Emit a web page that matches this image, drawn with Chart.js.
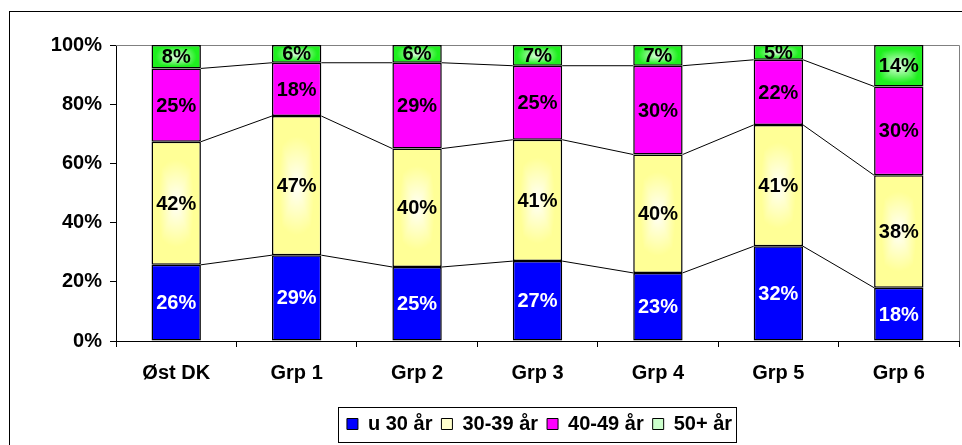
<!DOCTYPE html>
<html>
<head>
<meta charset="utf-8">
<script src="https://cdn.jsdelivr.net/npm/chart.js@4.4.1/dist/chart.umd.min.js"></script>
<style>
  html, body { margin: 0; padding: 0; background: #fff; }
</style>
</head>
<body>
<canvas id="myChart" width="962" height="445"></canvas>
<script>
var categories = ['Øst DK', 'Grp 1', 'Grp 2', 'Grp 3', 'Grp 4', 'Grp 5', 'Grp 6'];
var under30 = [26, 29, 25, 27, 23, 32, 18];
var age30to39 = [42, 47, 40, 41, 40, 41, 38];
var age40to49 = [25, 18, 29, 25, 30, 22, 30];
var over50 = [8, 6, 6, 7, 7, 5, 14];
var seriesNames = ['u 30 år', '30-39 år', '40-49 år', '50+ år'];
var yTicks = [0, 20, 40, 60, 80, 100];

var series = [under30, age30to39, age40to49, over50];
var FONT = '"Liberation Sans", Arial, sans-serif';
var FONT_SIZE = 20;
var BAR_FRACTION = 0.41;

// rows don't always add to 100 (Øst DK = 101), so stack shares
var totals = categories.map(function (c, i) {
    return series.reduce(function (s, arr) { return s + arr[i]; }, 0);
});
function share(arr) {
    return arr.map(function (v, i) { return v / totals[i] * 100; });
}

// "from center" fill like the old Excel gradients
function makeTile(center, edge, gain) {
    var n = 64;
    var c = document.createElement('canvas');
    c.width = n; c.height = n;
    var g = c.getContext('2d');
    var img = g.createImageData(n, n);
    for (var y = 0; y < n; y++) {
        for (var x = 0; x < n; x++) {
            var dx = (x + 0.5) / n * 2 - 1, dy = (y + 0.5) / n * 2 - 1;
            var t = 0.5 * Math.max(Math.abs(dx), Math.abs(dy)) + 0.5 * Math.min(1, Math.sqrt(dx * dx + dy * dy));
            t = Math.min(1, t * gain);
            var k = (y * n + x) * 4;
            for (var j = 0; j < 3; j++) img.data[k + j] = center[j] + (edge[j] - center[j]) * t;
            img.data[k + 3] = 255;
        }
    }
    g.putImageData(img, 0, 0);
    return c;
}

var yellowTile = makeTile([255, 255, 250], [255, 255, 150], 1.4);
var greenTile = makeTile([230, 255, 230], [30, 240, 30], 1.2);

function gradientFill(tile, solid) {
    return function (ctx) {
        var chart = ctx.chart, xs = chart.scales.x, ys = chart.scales.y;
        if (ctx.type !== 'data' || !xs || !ys) return solid;
        var i = ctx.dataIndex, d = ctx.datasetIndex;
        var base = 0;
        for (var k = 0; k < d; k++) base += chart.data.datasets[k].data[i];
        var top = ys.getPixelForValue(base + chart.data.datasets[d].data[i]);
        var bottom = ys.getPixelForValue(base);
        var w = xs.width / categories.length * BAR_FRACTION;
        var left = xs.getPixelForValue(i) - w / 2;
        var p = chart.ctx.createPattern(tile, 'repeat');
        p.setTransform(new DOMMatrix([w / 64, 0, 0, (bottom - top) / 64, left, top]));
        return p;
    };
}

var legendColors = ['#0000ff', '#ffffcc', '#ff00ff', '#ccffcc'];

var frame = {
    id: 'frame',
    beforeDraw: function (chart) {
        var c = chart.ctx;
        c.save();
        c.fillStyle = '#fff';
        c.fillRect(0, 0, chart.width, chart.height);
        c.strokeStyle = '#000';
        c.lineWidth = 1;
        c.strokeRect(9.5, 11.5, 1000, 1000);
        c.restore();
    },
    beforeDatasetsDraw: function (chart) {
        var a = chart.chartArea, c = chart.ctx;
        c.save();
        c.strokeStyle = '#808080';
        c.lineWidth = 1;
        c.beginPath();
        c.moveTo(a.left, Math.round(a.top) + 0.5);
        c.lineTo(Math.round(a.right) + 0.5, Math.round(a.top) + 0.5);
        c.lineTo(Math.round(a.right) + 0.5, a.bottom);
        c.stroke();
        c.restore();
    },
    afterLayout: function (chart) {
        var lg = chart.legend;
        var w = lg.right - lg.left, h = lg.bottom - lg.top;
        lg.left = 539.5 - w / 2; lg.right = 539.5 + w / 2;
        lg.top = 405; lg.bottom = 405 + h;
    },
    afterDraw: function (chart) {
        var lg = chart.legend, c = chart.ctx;
        var pad = lg.options.labels.padding;
        var cw = lg.lineWidths[0] - pad;
        var x0 = (lg.left + pad + lg.right - lg.lineWidths[0]) / 2;
        c.save();
        c.strokeStyle = '#000';
        c.lineWidth = 1;
        c.strokeRect(Math.round(x0 - 9) + 0.5, 407.5, Math.round(cw + 13), 35);
        c.restore();
    }
};

// thin lines joining the segment tops of neighbouring bars, plus the % labels
var seriesLines = {
    id: 'seriesLines',
    afterDatasetsDraw: function (chart) {
        var c = chart.ctx;
        c.save();
        c.strokeStyle = '#000';
        c.lineWidth = 1;
        c.beginPath();
        for (var d = 0; d < series.length - 1; d++) {
            var bars = chart.getDatasetMeta(d).data;
            for (var i = 0; i < bars.length - 1; i++) {
                var a = bars[i], b = bars[i + 1];
                c.moveTo(a.x + a.width / 2, a.y);
                c.lineTo(b.x - b.width / 2, b.y);
            }
        }
        c.stroke();

        c.font = 'bold ' + FONT_SIZE + 'px ' + FONT;
        c.textAlign = 'center';
        c.textBaseline = 'middle';
        chart.data.datasets.forEach(function (ds, d) {
            chart.getDatasetMeta(d).data.forEach(function (bar, i) {
                c.fillStyle = d === 0 ? '#fff' : '#000';
                c.fillText(series[d][i] + '%', bar.x, (bar.y + bar.base) / 2 + 1);
            });
        });
        c.restore();
    }
};

var ctx = document.getElementById('myChart').getContext('2d');
var chart = new Chart(ctx, {
    type: 'bar',
    data: {
        labels: categories,
        datasets: [{
            label: seriesNames[0],
            data: share(under30),
            backgroundColor: '#0000ff'
        }, {
            label: seriesNames[1],
            data: share(age30to39),
            backgroundColor: gradientFill(yellowTile, '#ffffcc')
        }, {
            label: seriesNames[2],
            data: share(age40to49),
            backgroundColor: '#ff00ff'
        }, {
            label: seriesNames[3],
            data: share(over50),
            backgroundColor: gradientFill(greenTile, '#ccffcc')
        }]
    },
    options: {
        responsive: false,
        animation: false,
        events: [],
        datasets: {
            bar: {
                borderColor: '#000',
                borderWidth: 1.5,
                borderSkipped: false,
                barPercentage: 1,
                categoryPercentage: BAR_FRACTION
            }
        },
        layout: {
            padding: { left: 0, right: 3, top: 45, bottom: 0 }
        },
        scales: {
            x: {
                stacked: true,
                grid: { offset: true, drawOnChartArea: false, tickLength: 6, color: '#000' },
                border: { color: '#000' },
                ticks: { color: '#000', padding: 14, font: { family: FONT, size: FONT_SIZE, weight: 'bold' } },
                afterFit: function (scale) {
                    scale.height = 445 - 341 - scale.chart.legend.height;
                }
            },
            y: {
                stacked: true,
                min: 0,
                max: 100,
                afterBuildTicks: function (scale) {
                    scale.ticks = yTicks.map(function (v) { return { value: v }; });
                },
                grid: { drawOnChartArea: false, tickLength: 6, color: '#000' },
                border: { color: '#000' },
                ticks: {
                    color: '#000',
                    padding: 8,
                    font: { family: FONT, size: FONT_SIZE, weight: 'bold' },
                    callback: function (v) { return v + '%'; }
                },
                afterFit: function (scale) { scale.width = 116; }
            }
        },
        plugins: {
            tooltip: { enabled: false },
            legend: {
                position: 'bottom',
                labels: {
                    boxWidth: 11,
                    boxHeight: 11,
                    padding: 9,
                    color: '#000',
                    font: { family: FONT, size: FONT_SIZE, weight: 'bold' },
                    generateLabels: function (chart) {
                        return Chart.defaults.plugins.legend.labels.generateLabels(chart).map(function (l, i) {
                            l.fillStyle = legendColors[i];
                            l.strokeStyle = '#000';
                            l.lineWidth = 1;
                            return l;
                        });
                    }
                }
            }
        }
    },
    plugins: [frame, seriesLines]
});
</script>
</body>
</html>
